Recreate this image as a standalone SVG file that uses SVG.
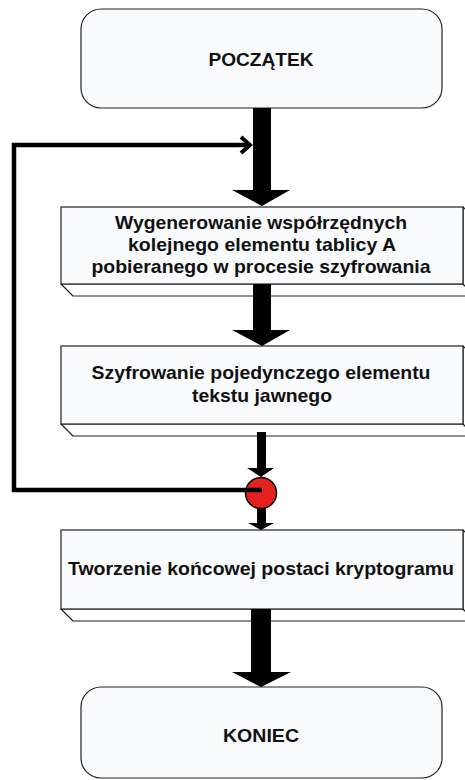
<svg xmlns="http://www.w3.org/2000/svg" width="465" height="780" viewBox="0 0 465 780">
<style>
.box{fill:#f9fafc;stroke:#222;stroke-width:1.2}
.bev{fill:#ffffff;stroke:#222;stroke-width:1.2;stroke-linejoin:round}
.t{font-family:"Liberation Sans",Arial,sans-serif;font-weight:bold;font-size:19px;fill:#111;text-anchor:middle}
.arr{fill:#000}
</style>
<rect width="465" height="780" fill="#fff"/>
<g id="start">
<rect class="box" x="81" y="9" width="361" height="99" rx="20"/>
<text class="t" x="261" y="66" textLength="105" lengthAdjust="spacingAndGlyphs">POCZĄTEK</text>
</g>
<g id="gen">
<polygon class="bev" points="61,284 73,296 475,296 463,284"/>
<polygon class="bev" points="463,207 475,219 475,296 463,284"/>
<rect class="box" x="61" y="207" width="402" height="77"/>
<text class="t" x="261" y="229" textLength="292" lengthAdjust="spacingAndGlyphs">Wygenerowanie współrzędnych</text>
<text class="t" x="262" y="251" textLength="268" lengthAdjust="spacingAndGlyphs">kolejnego elementu tablicy A</text>
<text class="t" x="261" y="273" textLength="339" lengthAdjust="spacingAndGlyphs">pobieranego w procesie szyfrowania</text>
</g>
<g id="enc">
<polygon class="bev" points="61,424 73,436 475,436 463,424"/>
<polygon class="bev" points="463,346 475,358 475,436 463,424"/>
<rect class="box" x="61" y="346" width="402" height="78"/>
<text class="t" x="261" y="379" textLength="339" lengthAdjust="spacingAndGlyphs">Szyfrowanie pojedynczego elementu</text>
<text class="t" x="262" y="402" textLength="140" lengthAdjust="spacingAndGlyphs">tekstu jawnego</text>
</g>
<g id="final">
<polygon class="bev" points="61,609 73,621 475,621 463,609"/>
<polygon class="bev" points="463,530 475,542 475,621 463,609"/>
<rect class="box" x="61" y="530" width="402" height="79"/>
<text class="t" x="261" y="575" textLength="386" lengthAdjust="spacingAndGlyphs">Tworzenie końcowej postaci kryptogramu</text>
</g>
<g id="end">
<rect class="box" x="81" y="687" width="361" height="91" rx="20"/>
<text class="t" x="261" y="742" textLength="76" lengthAdjust="spacingAndGlyphs">KONIEC</text>
</g>
<g id="junction">
<circle cx="261" cy="493" r="15.5" fill="#e3221f" stroke="#000" stroke-width="1.5"/>
</g>
<g id="connectors">
<polygon class="arr" points="253,108 271,108 271,190 290,190 262,206 232,190 253,190"/>
<polygon class="arr" points="253,284 271,284 271,330 290,330 262,346 232,330 253,330"/>
<polygon class="arr" points="257,432 266,432 266,468 274,468 261,477 247,468 257,468"/>
<polygon class="arr" points="257,508 266,508 266,523 274,523 261,530 248,523 257,523"/>
<polygon class="arr" points="251,609 271,609 271,672 291,672 261,687 232,672 251,672"/>
<path d="M262 490 H14 V145 H250" fill="none" stroke="#000" stroke-width="4.5"/>
<path d="M241 137 L250 145 L241 153" fill="none" stroke="#000" stroke-width="4"/>
</g>
</svg>
